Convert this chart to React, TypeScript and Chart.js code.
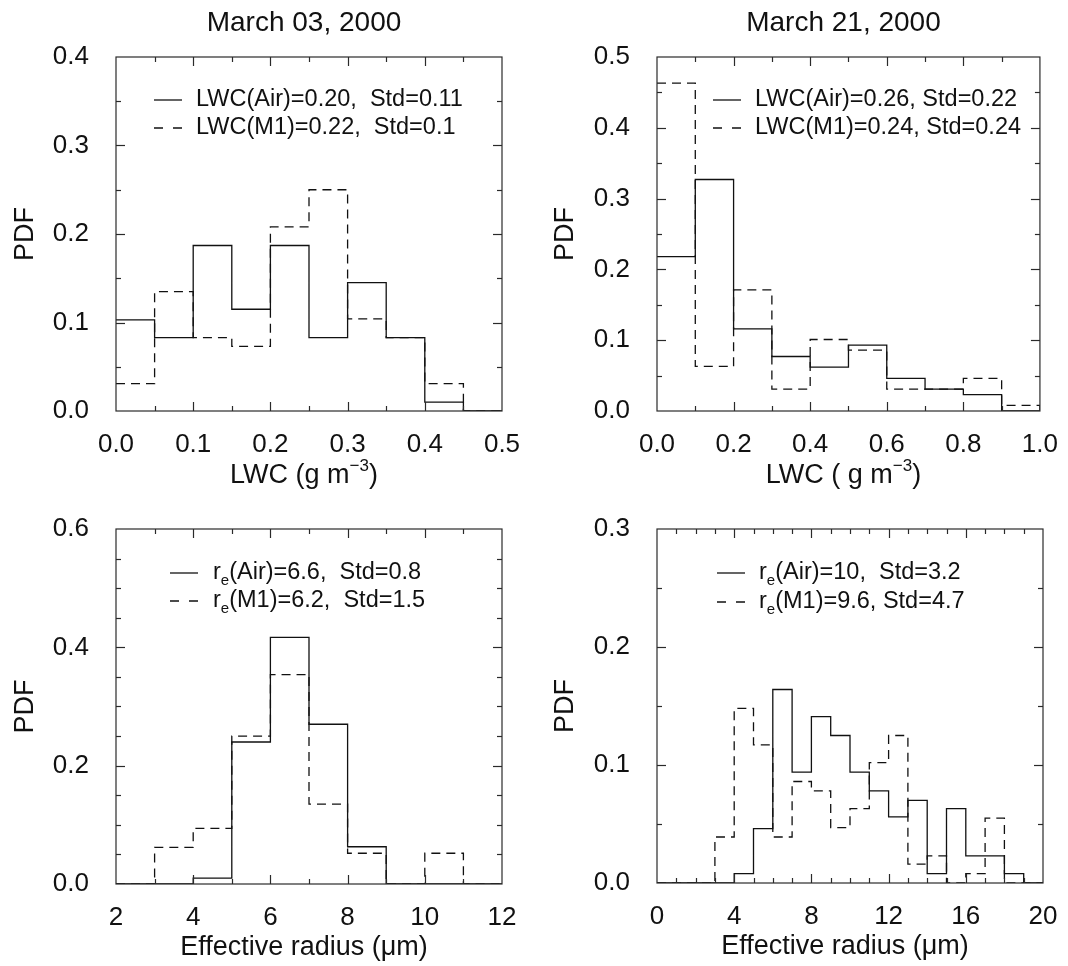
import React, { useEffect, useRef } from "react";
import { Chart, registerables } from "chart.js";

Chart.register(...registerables);

const FONT = '"Liberation Sans", Arial, Helvetica, sans-serif';
const INK = "#111111";

// ---------- data ----------
// March 03, 2000 – LWC histogram
const lwcEdgesMar03 = [0, 0.05, 0.1, 0.15, 0.2, 0.25, 0.3, 0.35, 0.4, 0.45, 0.5];
const lwcAirMar03 = [0.103, 0.083, 0.187, 0.115, 0.187, 0.083, 0.145, 0.083, 0.01, 0];
const lwcM1Mar03 = [0.031, 0.135, 0.083, 0.073, 0.208, 0.25, 0.104, 0.083, 0.031, 0];

// March 21, 2000 – LWC histogram
const lwcEdgesMar21 = [0, 0.1, 0.2, 0.3, 0.4, 0.5, 0.6, 0.7, 0.8, 0.9, 1.0];
const lwcAirMar21 = [0.218, 0.327, 0.116, 0.077, 0.062, 0.093, 0.046, 0.031, 0.023, 0];
const lwcM1Mar21 = [0.463, 0.063, 0.171, 0.031, 0.101, 0.086, 0.031, 0.031, 0.046, 0.008];

// March 03, 2000 – effective radius histogram
const reEdgesMar03 = [2, 3, 4, 5, 6, 7, 8, 9, 10, 11, 12];
const reAirMar03 = [0, 0, 0.01, 0.24, 0.417, 0.27, 0.063, 0, 0, 0];
const reM1Mar03 = [0, 0.062, 0.094, 0.25, 0.354, 0.135, 0.052, 0, 0.052, 0];

// March 21, 2000 – effective radius histogram
const reEdgesMar21 = [0, 1, 2, 3, 4, 5, 6, 7, 8, 9, 10, 11, 12, 13, 14, 15, 16, 17, 18, 19, 20];
const reAirMar21 = [0, 0, 0, 0, 0.008, 0.046, 0.164, 0.094, 0.141, 0.125, 0.094, 0.078, 0.056, 0.07, 0.008, 0.063, 0.023, 0.023, 0.008, 0];
const reM1Mar21 = [0, 0, 0, 0.039, 0.148, 0.117, 0.039, 0.086, 0.078, 0.047, 0.063, 0.102, 0.125, 0.016, 0.023, 0, 0.008, 0.055, 0, 0];

// tick labels
const lwcTicksMar03 = [0, 0.1, 0.2, 0.3, 0.4, 0.5];
const lwcTicksMar21 = [0, 0.2, 0.4, 0.6, 0.8, 1.0];
const reTicksMar03 = [2, 4, 6, 8, 10, 12];
const reTicksMar21 = [0, 4, 8, 12, 16, 20];
const pdfTicksA = [0, 0.1, 0.2, 0.3, 0.4];
const pdfTicksB = [0, 0.1, 0.2, 0.3, 0.4, 0.5];
const pdfTicksC = [0, 0.2, 0.4, 0.6];
const pdfTicksD = [0, 0.1, 0.2, 0.3];

// ---------- helpers ----------
type Seg = { t: string; sub?: boolean; sup?: boolean };

function stepPoints(edges: number[], vals: number[]) {
  const pts = vals.map((v, i) => ({ x: edges[i], y: v }));
  pts.push({ x: edges[edges.length - 1], y: 0 });
  return pts;
}

function drawRich(ctx: CanvasRenderingContext2D, segs: Seg[], x: number, y: number, size: number, align: "left" | "center") {
  const small = Math.round(size * 0.62);
  const fontOf = (s: Seg) => `${s.sub || s.sup ? small : size}px ${FONT}`;
  const widths = segs.map((s) => {
    ctx.font = fontOf(s);
    return ctx.measureText(s.t).width;
  });
  const total = widths.reduce((a, b) => a + b, 0);
  let cx = align === "center" ? x - total / 2 : x;
  ctx.textAlign = "left";
  ctx.textBaseline = "middle";
  segs.forEach((s, i) => {
    ctx.font = fontOf(s);
    const dy = s.sub ? size * 0.32 : s.sup ? -size * 0.37 : 0;
    ctx.fillText(s.t, cx, y + dy);
    cx += widths[i];
  });
}

const makeDecor = (cfg: any) => ({
  id: "decor" + cfg.key,
  afterDraw(chart: any) {
    const { ctx, chartArea: a } = chart;
    const xs = chart.scales.x;
    const ys = chart.scales.y;
    ctx.save();
    ctx.strokeStyle = "#2a2a2a";
    ctx.lineWidth = 1.2;
    ctx.strokeRect(a.left, a.top, a.right - a.left, a.bottom - a.top);
    const seg = (x1: number, y1: number, x2: number, y2: number) => {
      ctx.beginPath();
      ctx.moveTo(x1, y1);
      ctx.lineTo(x2, y2);
      ctx.stroke();
    };
    const MAJ = 9;
    const MIN = 5;
    const xMajor = xs.ticks.map((t: any) => t.value);
    const nx = Math.round((xs.max - xs.min) / cfg.xMinor);
    for (let i = 1; i < nx; i++) {
      const v = xs.min + i * cfg.xMinor;
      const isMaj = xMajor.some((m: number) => Math.abs(m - v) < 1e-6);
      const len = isMaj ? MAJ : MIN;
      const px = Math.round(xs.getPixelForValue(v)) + 0.5;
      seg(px, a.bottom, px, a.bottom - len);
      seg(px, a.top, px, a.top + len);
    }
    const yMajor = ys.ticks.map((t: any) => t.value);
    const ny = Math.round((ys.max - ys.min) / cfg.yMinor);
    for (let i = 1; i < ny; i++) {
      const v = ys.min + i * cfg.yMinor;
      const isMaj = yMajor.some((m: number) => Math.abs(m - v) < 1e-6);
      const len = isMaj ? MAJ : MIN;
      const py = Math.round(ys.getPixelForValue(v)) + 0.5;
      seg(a.left, py, a.left + len, py);
      seg(a.right, py, a.right - len, py);
    }

    ctx.fillStyle = INK;
    const cxPlot = (a.left + a.right) / 2 - 5;
    // panel title
    if (cfg.title) drawRich(ctx, [{ t: cfg.title }], cxPlot, 23, 28, "center");
    // x axis title
    drawRich(ctx, cfg.xTitle, cxPlot, a.bottom + cfg.xTitleDy, 27, "center");

    // legend
    ctx.strokeStyle = INK;
    ctx.lineWidth = 1.3;
    cfg.legend.forEach((row: Seg[], i: number) => {
      const ly = a.top + cfg.legY[i];
      const lx = a.left + cfg.legX;
      if (i === 0) {
        ctx.setLineDash([]);
        seg(lx, ly, lx + 28, ly);
      } else {
        ctx.setLineDash([9, 10]);
        seg(lx, ly, lx + 28, ly);
        ctx.setLineDash([]);
      }
      ctx.fillStyle = INK;
      drawRich(ctx, row, a.left + cfg.legTextX, ly, 23.5, "left");
    });
    ctx.restore();
  },
});

const panels = [
  {
    key: "a", left: 0, top: 0, w: 534, h: 500,
    plot: { left: 116, top: 57, right: 502, bottom: 411 },
    title: "March 03, 2000",
    edges: lwcEdgesMar03, air: lwcAirMar03, m1: lwcM1Mar03,
    xMin: 0, xMax: 0.5, xTicks: lwcTicksMar03, xDec: 1, xMinor: 0.05,
    yMax: 0.4, yTicks: pdfTicksA, yMinor: 0.05,
    xTitle: [{ t: "LWC (g m" }, { t: "\u22123", sup: true }, { t: ")" }],
    xTitleDy: 65,
    legX: 38, legTextX: 80, legY: [43, 71],
    legend: [
      [{ t: "LWC(Air)=0.20,  Std=0.11" }],
      [{ t: "LWC(M1)=0.22,  Std=0.1" }],
    ],
  },
  {
    key: "b", left: 540, top: 0, w: 528, h: 500,
    plot: { left: 117, top: 57, right: 503, bottom: 411 },
    title: "March 21, 2000",
    edges: lwcEdgesMar21, air: lwcAirMar21, m1: lwcM1Mar21,
    xMin: 0, xMax: 1.0, xTicks: lwcTicksMar21, xDec: 1, xMinor: 0.1,
    yMax: 0.5, yTicks: pdfTicksB, yMinor: 0.05,
    xTitle: [{ t: "LWC ( g m" }, { t: "\u22123", sup: true }, { t: ")" }],
    xTitleDy: 65,
    legX: 56, legTextX: 98, legY: [43, 71],
    legend: [
      [{ t: "LWC(Air)=0.26, Std=0.22" }],
      [{ t: "LWC(M1)=0.24, Std=0.24" }],
    ],
  },
  {
    key: "c", left: 0, top: 470, w: 534, h: 496,
    plot: { left: 116, top: 59, right: 502, bottom: 414 },
    title: "",
    edges: reEdgesMar03, air: reAirMar03, m1: reM1Mar03,
    xMin: 2, xMax: 12, xTicks: reTicksMar03, xDec: 0, xMinor: 1,
    yMax: 0.6, yTicks: pdfTicksC, yMinor: 0.05,
    xTitle: [{ t: "Effective radius (\u03bcm)" }],
    xTitleDy: 64,
    legX: 54, legTextX: 97, legY: [44, 72],
    legend: [
      [{ t: "r" }, { t: "e", sub: true }, { t: "(Air)=6.6,  Std=0.8" }],
      [{ t: "r" }, { t: "e", sub: true }, { t: "(M1)=6.2,  Std=1.5" }],
    ],
  },
  {
    key: "d", left: 540, top: 470, w: 528, h: 496,
    plot: { left: 117, top: 59, right: 503, bottom: 413 },
    title: "",
    edges: reEdgesMar21, air: reAirMar21, m1: reM1Mar21,
    xMin: 0, xMax: 20, xTicks: reTicksMar21, xDec: 0, xMinor: 1,
    yMax: 0.3, yTicks: pdfTicksD, yMinor: 0.05,
    xTitle: [{ t: "Effective radius (\u03bcm)" }],
    xTitleDy: 64,
    legX: 60, legTextX: 102, legY: [44, 73],
    legend: [
      [{ t: "r" }, { t: "e", sub: true }, { t: "(Air)=10,  Std=3.2" }],
      [{ t: "r" }, { t: "e", sub: true }, { t: "(M1)=9.6, Std=4.7" }],
    ],
  },
];

function Panel({ cfg }: { cfg: any }) {
  const ref = useRef<HTMLCanvasElement | null>(null);
  useEffect(() => {
    if (!ref.current) return;
    const chart = new Chart(ref.current, {
      type: "line",
      data: {
        datasets: [
          {
            data: stepPoints(cfg.edges, cfg.m1),
            borderColor: INK,
            borderWidth: 1.3,
            borderDash: [9, 6],
            pointRadius: 0,
            stepped: "before",
            fill: false,
          },
          {
            data: stepPoints(cfg.edges, cfg.air),
            borderColor: INK,
            borderWidth: 1.3,
            pointRadius: 0,
            stepped: "before",
            fill: false,
          },
        ],
      } as any,
      options: {
        responsive: false,
        animation: false,
        events: [],
        layout: {
          padding: { left: 0, top: cfg.plot.top, right: cfg.w - cfg.plot.right, bottom: 0 },
        },
        plugins: {
          legend: { display: false },
          tooltip: { enabled: false },
          title: { display: false },
        },
        scales: {
          x: {
            type: "linear",
            min: cfg.xMin,
            max: cfg.xMax,
            grid: { display: false },
            border: { display: false },
            afterBuildTicks: (s: any) => {
              s.ticks = cfg.xTicks.map((v: number) => ({ value: v }));
            },
            afterFit: (s: any) => {
              s.height = cfg.h - cfg.plot.bottom;
            },
            ticks: {
              autoSkip: false,
              maxRotation: 0,
              padding: 10,
              color: INK,
              font: { family: FONT, size: 26 },
              callback: (v: any) => Number(v).toFixed(cfg.xDec),
            },
          },
          y: {
            type: "linear",
            min: 0,
            max: cfg.yMax,
            grid: { display: false },
            border: { display: false },
            afterBuildTicks: (s: any) => {
              s.ticks = cfg.yTicks.map((v: number) => ({ value: v }));
            },
            afterFit: (s: any) => {
              s.width = cfg.plot.left;
            },
            ticks: {
              autoSkip: false,
              padding: 19,
              color: INK,
              font: { family: FONT, size: 26 },
              callback: (v: any) => Number(v).toFixed(1),
            },
            title: {
              display: true,
              text: "PDF",
              color: INK,
              font: { family: FONT, size: 27 },
              padding: { top: 9, bottom: 0 },
            },
          },
        },
      } as any,
      plugins: [makeDecor(cfg)],
    });
    return () => chart.destroy();
  }, [cfg]);
  return (
    <canvas
      ref={ref}
      width={cfg.w}
      height={cfg.h}
      style={{ position: "absolute", left: cfg.left, top: cfg.top, width: cfg.w, height: cfg.h }}
    />
  );
}

export default function App() {
  return (
    <div style={{ position: "absolute", left: 0, top: 0, width: 1068, height: 966, background: "#fff" }}>
      {panels.map((p) => (
        <Panel key={p.key} cfg={p} />
      ))}
    </div>
  );
}
